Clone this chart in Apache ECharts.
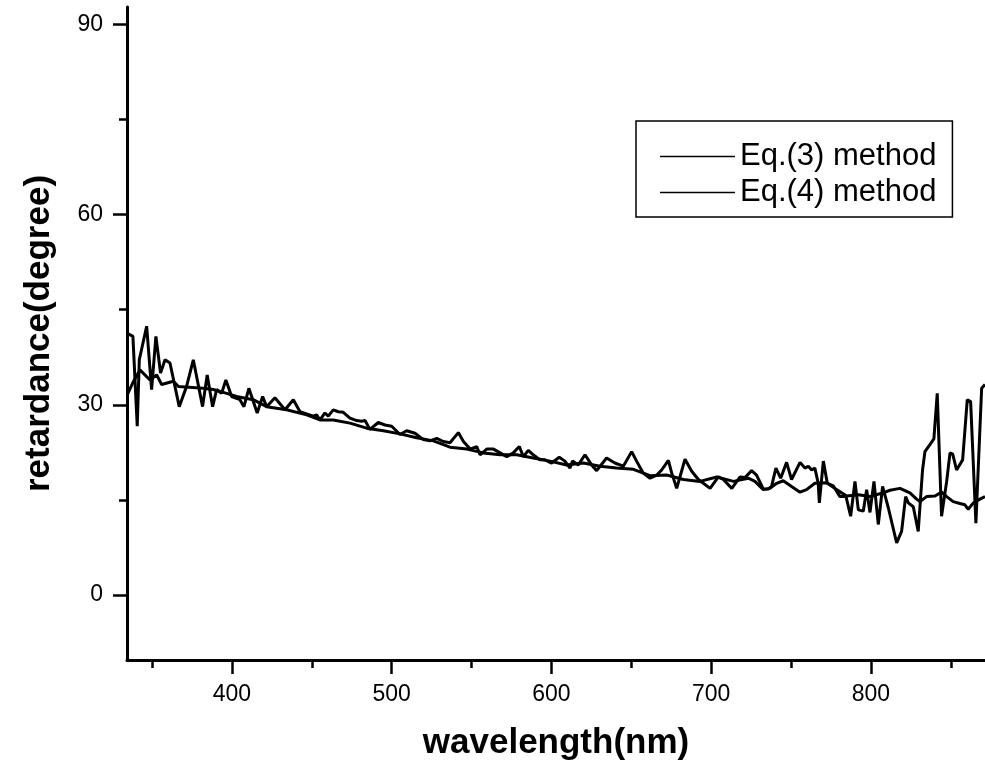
<!DOCTYPE html>
<html>
<head>
<meta charset="utf-8">
<script src="https://cdn.jsdelivr.net/npm/echarts@6/dist/echarts.min.js"></script>
<style>
html,body{margin:0;padding:0;background:#fff;}
#chart{width:985px;height:761px;}
</style>
</head>
<body>
<div id="chart"></div>
<script>
// ---- data ----
const seriesNames = ['Eq.(3) method', 'Eq.(4) method'];
const xTickValues = [400, 500, 600, 700, 800];
const xMinorTickValues = [350, 450, 550, 650, 750, 850];
const yTickValues = [0, 30, 60, 90];
const yMinorTickValues = [15, 45, 75];

const eq3Wavelength = [334.5,338.0,340.7,342.0,346.6,349.7,352.4,355.3,358.1,361.2,367.0,371.6,375.8,381.6,384.5,387.9,390.4,393.5,396.2,399.8,405.0,407.5,410.6,415.8,419.2,421.7,426.9,433.2,438.4,442.6,450.9,453.0,455.1,458.2,460.3,463.4,466.6,469.7,473.9,478.1,481.2,483.3,486.4,491.6,495.8,500.0,505.2,509.4,514.6,519.8,524.0,528.2,532.3,536.5,541.7,544.9,549.1,553.2,555.3,559.5,563.7,567.9,572.0,576.1,579.9,582.4,585.5,588.6,592.8,595.9,600.1,604.9,608.4,611.6,613.2,616.8,621.0,625.1,628.3,634.5,639.7,645.0,650.2,653.3,657.5,661.7,665.9,669.0,673.2,675.3,678.4,683.6,687.8,692.0,695.1,699.3,704.5,707.6,712.9,718.1,721.2,725.3,728.4,732.6,735.7,737.8,740.5,743.5,747.2,750.3,755.6,758.7,760.8,762.9,764.9,767.0,767.7,770.2,772.7,776.4,780.6,784.4,787.3,790.0,792.1,795.2,797.3,799.4,801.9,804.6,807.3,810.9,816.1,819.2,821.7,823.4,826.5,829.6,832.3,833.8,836.9,839.4,841.5,844.2,847.4,849.5,851.2,853.6,857.4,860.3,862.4,865.7,869.3,871.4];
const eq3Retardance = [41.3,40.8,26.6,37.1,42.4,32.4,40.8,35.0,37.1,36.6,29.7,32.9,37.1,29.7,34.7,29.7,32.4,31.8,33.9,31.3,30.8,29.7,32.6,28.7,31.3,29.7,31.1,29.2,30.8,28.9,28.2,28.4,27.6,28.7,28.2,29.2,28.9,28.8,27.9,27.5,27.4,27.5,26.1,27.2,26.8,26.6,25.3,25.9,25.5,24.5,24.3,24.7,24.2,24.0,25.6,24.2,23.0,23.4,22.1,23.0,23.0,22.4,21.8,22.4,23.4,21.8,22.8,22.1,21.3,21.3,20.8,21.7,21.1,20.0,21.1,20.5,22.1,20.5,19.6,21.6,20.8,20.3,22.6,21.1,19.2,18.4,18.9,19.7,21.2,19.2,16.8,21.4,19.5,18.2,17.6,16.8,18.6,18.2,16.8,18.6,18.5,19.6,18.9,16.7,16.7,17.1,20.0,18.4,20.9,18.2,20.9,20.0,20.3,19.7,20.0,17.6,14.5,21.1,17.6,17.2,15.5,15.5,12.4,17.9,13.4,13.2,16.6,13.0,17.9,11.1,17.1,13.7,8.2,10.0,15.5,14.5,13.9,10.0,19.7,22.6,23.7,24.6,31.8,12.4,17.9,22.4,22.2,19.7,21.3,30.8,30.5,11.3,32.6,33.2];

const eq4Wavelength = [334.5,338.0,342.4,348.7,352.9,356.0,363.3,366.4,382.0,388.3,396.7,402.9,413.3,421.7,434.2,446.8,455.1,463.4,473.9,484.3,494.8,505.2,515.6,526.1,536.5,547.0,557.4,567.9,578.3,588.6,599.1,609.5,620.0,630.4,640.8,651.3,661.7,672.1,682.6,693.0,703.5,713.9,723.2,727.4,732.6,736.8,741.0,745.1,750.3,755.6,759.7,764.9,772.3,778.5,784.8,792.1,799.4,807.7,811.9,818.2,824.4,828.6,830.7,834.8,840.1,844.2,847.4,851.5,855.7,858.8,860.9,864.1,868.2,871.4];
const eq4Retardance = [31.6,33.5,35.5,33.9,34.7,33.2,33.7,32.9,32.6,32.4,31.8,31.3,30.8,29.7,29.2,28.4,27.6,27.6,27.1,26.3,25.9,25.4,24.8,24.3,23.3,23.0,22.4,22.1,22.1,21.6,21.1,20.5,20.8,20.3,20.0,19.8,18.8,18.9,18.2,17.9,18.6,17.9,18.4,17.9,16.6,16.8,17.6,18.0,17.1,16.2,16.6,17.6,17.7,16.6,15.6,15.8,15.5,16.1,16.5,16.8,16.1,15.1,14.7,15.5,15.6,16.2,15.5,14.7,14.4,14.2,13.5,14.5,15.1,15.5];

// ---- chart ----
function pairs(xs, ys){ return xs.map((x,i)=>[x, ys[i]]); }
const FONT = '"Liberation Sans", Arial, Helvetica, sans-serif';
const chart = echarts.init(document.getElementById('chart'), null, {renderer:'canvas'});
const X_MIN = 334.3, X_MAX = 871.4, Y_MIN = -10.3, Y_MAX = 92.8;

const option = {
  backgroundColor: '#fff',
  animation: false,
  grid: {left:127, right:0, top:7, bottom:101, containLabel:false, outerBoundsMode:'none'},
  legend: {
    orient: 'vertical', left: 636, top: 121,
    borderColor: '#000', borderWidth: 1.5,
    padding: [20, 16, 9, 24],
    itemWidth: 75, itemHeight: 30, itemGap: 5,
    icon: 'path://M0,0H75V1.5H0Z',
    textStyle: {fontSize: 31, fontFamily: FONT, color: '#000'},
    data: seriesNames
  },
  xAxis: [{
    type:'value', min:X_MIN, max:X_MAX,
    name:'wavelength(nm)', nameLocation:'middle', nameGap:66,
    nameTextStyle:{fontSize:35, fontWeight:'bold', fontFamily:FONT, color:'#000'},
    axisLine:{show:true, onZero:false, lineStyle:{color:'#000', width:3}},
    axisTick:{show:true, inside:false, length:14, customValues:xTickValues, lineStyle:{color:'#000', width:2.5}},
    axisLabel:{show:true, customValues:xTickValues, margin:23, fontSize:23, fontFamily:FONT, color:'#000'},
    splitLine:{show:false}
  },{
    type:'value', min:X_MIN, max:X_MAX, position:'bottom',
    axisLine:{show:false, onZero:false},
    axisTick:{show:true, length:8, customValues:xMinorTickValues, lineStyle:{color:'#000', width:2.5}},
    axisLabel:{show:false},
    splitLine:{show:false}
  }],
  yAxis: [{
    type:'value', min:Y_MIN, max:Y_MAX,
    name:'retardance(degree)', nameLocation:'middle', nameGap:70,
    nameTextStyle:{fontSize:35, fontWeight:'bold', fontFamily:FONT, color:'#000'},
    axisLine:{show:true, onZero:false, lineStyle:{color:'#000', width:3}},
    axisTick:{show:true, length:14, customValues:yTickValues, lineStyle:{color:'#000', width:2.5}},
    axisLabel:{show:true, customValues:yTickValues, margin:24, fontSize:23, fontFamily:FONT, color:'#000'},
    splitLine:{show:false}
  },{
    type:'value', min:Y_MIN, max:Y_MAX, position:'left',
    axisLine:{show:false, onZero:false},
    axisTick:{show:true, length:8, customValues:yMinorTickValues, lineStyle:{color:'#000', width:2.5}},
    axisLabel:{show:false},
    splitLine:{show:false}
  }],
  series: [{
    name: seriesNames[0], type:'line', xAxisIndex:0, yAxisIndex:0,
    data: pairs(eq3Wavelength, eq3Retardance),
    showSymbol:false, symbol:'none', color:'#000',
    lineStyle:{color:'#000', width:3}
  },{
    name: seriesNames[1], type:'line', xAxisIndex:0, yAxisIndex:0,
    data: pairs(eq4Wavelength, eq4Retardance),
    showSymbol:false, symbol:'none', color:'#000',
    lineStyle:{color:'#000', width:3}
  }]
};
chart.setOption(option);
</script>
</body>
</html>
